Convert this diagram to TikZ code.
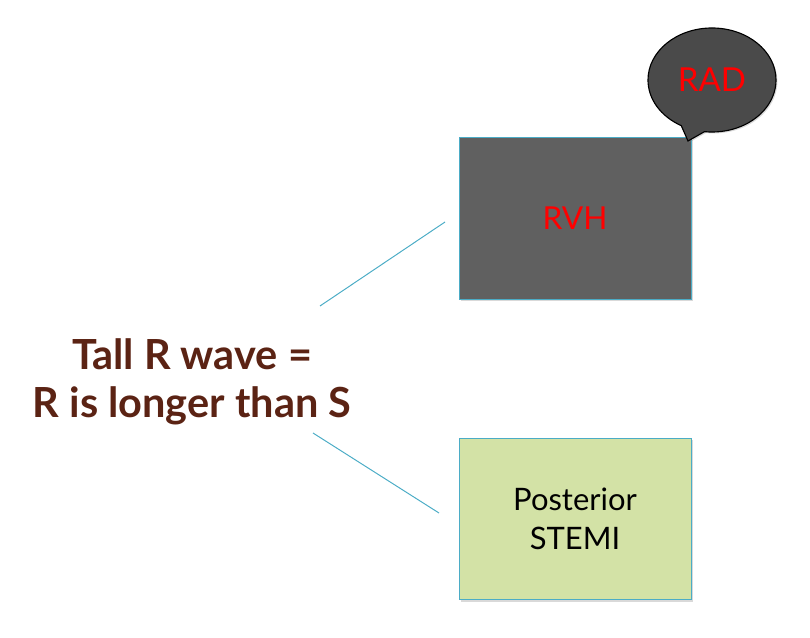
\documentclass[tikz,border=0pt]{standalone}
\usepackage{fontspec}
\setmainfont{Lato}
\usetikzlibrary{positioning, shapes.callouts, shadows}
\definecolor{boxteal}{RGB}{75, 172, 198}
\definecolor{rvhgray}{RGB}{96, 96, 96}
\definecolor{radgray}{RGB}{74, 74, 74}
\definecolor{stemigreen}{RGB}{211, 226, 166}
\definecolor{wavebrown}{RGB}{91, 35, 20}
\definecolor{redtext}{RGB}{255, 0, 0}

\begin{document}
\begin{tikzpicture}[x=0.025cm, y=-0.025cm,
    dxbox/.style={draw=boxteal, line width=0.6pt, minimum width=5.8cm, minimum height=4.03cm,
      drop shadow={shadow xshift=1.5pt, shadow yshift=-1.5pt, opacity=0.3}},
    link/.style={draw=boxteal, line width=0.7pt}]
  \useasboundingbox (0,0) rectangle (810,638);
  % main statement
  \node[text=wavebrown, font=\fontsize{29.5}{34}\selectfont\bfseries, align=center] (wave) at (192,382)
    {Tall R wave =\\R is longer than S};
  % diagnosis boxes
  \node[dxbox, fill=rvhgray, text=redtext, font=\fontsize{22.5}{27}\selectfont] (rvh) at (575,218.5) {RVH};
  \node[dxbox, fill=stemigreen, text=black, font=\fontsize{22}{27.7}\selectfont, align=center] (stemi) at (575,519)
    {Posterior\\STEMI};
  % axis deviation callout
  \node[ellipse callout, draw=black, line width=0.8pt, fill=radgray, text=redtext,
    minimum width=3.2cm, minimum height=2.6cm, inner sep=0pt, callout absolute pointer={(688,141)},
    callout pointer arc=22, font=\fontsize{23.5}{27}\selectfont,
    drop shadow={shadow xshift=1pt, shadow yshift=-1pt, opacity=0.3}] (rad) at (712,80) {RAD};
  % connectors
  \coordinate (wave-up) at (320,306);
  \coordinate (rvh-in) at (445,222);
  \coordinate (wave-down) at (313,433);
  \coordinate (stemi-in) at (439,513);
  \draw[link] (wave-up) -- (rvh-in);
  \draw[link] (wave-down) -- (stemi-in);
\end{tikzpicture}
\end{document}
